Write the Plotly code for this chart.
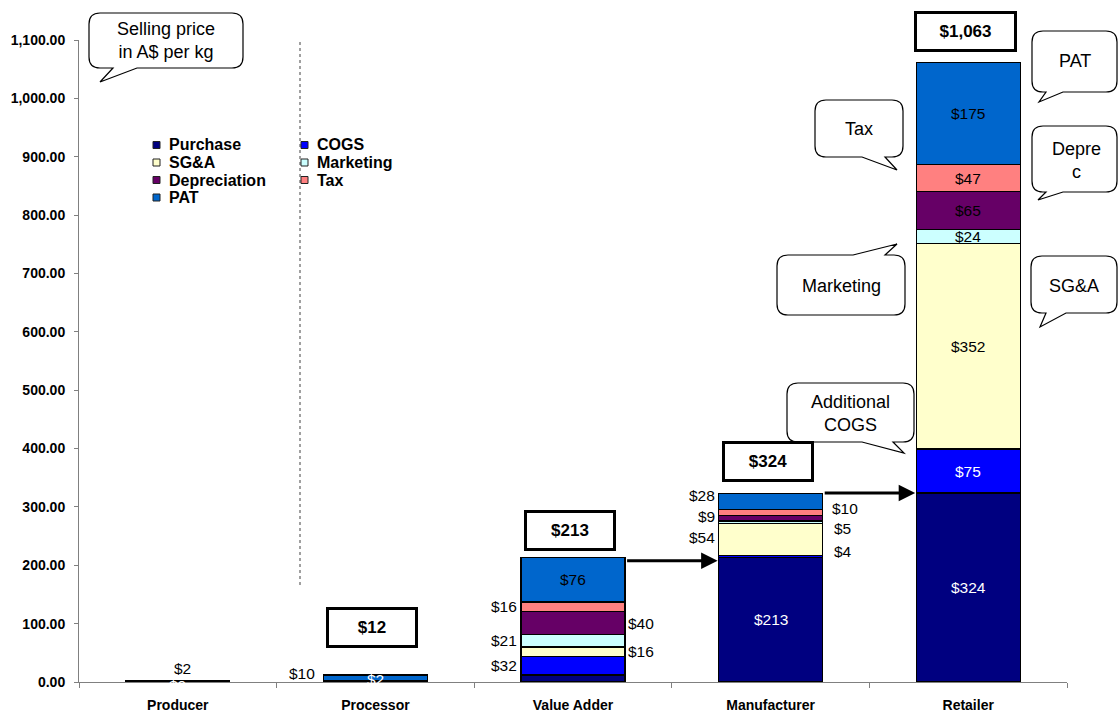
import plotly.graph_objects as go

# ---------------- data ----------------
categories = ["Producer", "Processor", "Value Adder", "Manufacturer", "Retailer"]
series_names = ["Purchase", "COGS", "SG&A", "Marketing", "Depreciation", "Tax", "PAT"]
purchase = [0, 2, 12, 213, 324]
cogs = [0, 0, 32, 4, 75]
sga = [0, 0, 16, 54, 352]
marketing = [0, 0, 21, 5, 24]
depreciation = [0, 0, 40, 9, 65]
tax = [0, 0, 16, 10, 47]
pat = [2, 10, 76, 28, 175]
selling_price = [2, 12, 213, 324, 1063]
y_tick_values = list(range(0, 1101, 100))

series_values = [purchase, cogs, sga, marketing, depreciation, tax, pat]

# ---------------- styles ----------------
colors = {
    "Purchase": "#000080",
    "COGS": "#0000FF",
    "SG&A": "#FFFFCC",
    "Marketing": "#CCFFFF",
    "Depreciation": "#660066",
    "Tax": "#FF8080",
    "PAT": "#0066CC",
}
FONT = "Liberation Sans, Arial, sans-serif"

# label placement: c=centre, l=left of bar, r=right of bar, a=above, None=hidden
label_pos = {
    "Purchase": ["c", "c", None, "c", "c"],
    "COGS": [None, None, "l", "r", "c"],
    "SG&A": [None, None, "r", "l", "c"],
    "Marketing": [None, None, "l", "r", "c"],
    "Depreciation": [None, None, "r", "l", "c"],
    "Tax": [None, None, "l", "r", "c"],
    "PAT": ["a", "l", "c", "l", "c"],
}
nudges = {  # (dx, dy) in pixels, dy positive = up
    ("PAT", "Processor"): (-4, 4),
    ("Purchase", "Processor"): (0, 2),
    ("Purchase", "Producer"): (0, -3),
    ("COGS", "Manufacturer"): (8, 5),
    ("Marketing", "Manufacturer"): (8, -6),
    ("Tax", "Manufacturer"): (6, 4),
    ("Depreciation", "Manufacturer"): (0, 2),
    ("PAT", "Manufacturer"): (0, 6),
    ("SG&A", "Manufacturer"): (0, 2),
    ("PAT", "Producer"): (5, 1),
}
box_gap = [None, 27, 7, 11, 10]

W, H = 1118, 712
L, R, T, B = 79, 51, 40, 30
PW, PH = W - L - R, H - T - B


def px(x):
    return (x - L) / PW


def py(y):
    return (H - B - y) / PH


fig = go.Figure()
for name, vals in zip(series_names, series_values):
    fig.add_trace(go.Bar(
        name=name, x=categories, y=vals,
        marker=dict(color=colors[name], line=dict(color="black", width=1.3)),
        hoverinfo="skip", showlegend=False,
    ))

annotations = []
# data labels
for ci, cat in enumerate(categories):
    base = 0
    for name, vals in zip(series_names, series_values):
        v = vals[ci]
        mid = base + v / 2
        top = base + v
        base = top
        p = label_pos[name][ci]
        if p is None:
            continue
        dx, dy = nudges.get((name, cat), (0, 0))
        col = "black"
        ann = dict(x=cat, xref="x", yref="y", text=f"${v:,}", showarrow=False,
                   font=dict(family=FONT, size=15.5, color="black"))
        if p == "c":
            if name in ("Purchase", "COGS"):
                col = "white"
            ann.update(y=mid, xanchor="center", yanchor="middle", xshift=dx, yshift=dy)
        elif p == "l":
            ann.update(y=mid, xanchor="right", yanchor="middle", xshift=-54 + dx, yshift=dy)
        elif p == "r":
            ann.update(y=mid, xanchor="left", yanchor="middle", xshift=53 + dx, yshift=dy)
        elif p == "a":
            ann.update(y=top, xanchor="center", yanchor="bottom", xshift=dx, yshift=1 + dy)
        ann["font"]["color"] = col
        annotations.append(ann)

# selling price boxes
for ci, cat in enumerate(categories):
    if box_gap[ci] is None:
        continue
    total = sum(s[ci] for s in series_values)
    txt = f"${selling_price[ci]:,}"
    annotations.append(dict(
        x=cat, y=total, xref="x", yref="y", xanchor="center", yanchor="bottom",
        yshift=box_gap[ci], xshift=-3, text=f"<b>{txt}</b>", showarrow=False,
        font=dict(family=FONT, size=17, color="black"),
        bordercolor="black", borderwidth=3, borderpad=1, bgcolor="white",
        width=84 if len(txt) < 6 else 95, height=33,
    ))

# arrows between stages
for src, dst, ys in [(2, 3, -3), (3, 4, 0)]:
    annotations.append(dict(
        x=categories[dst], y=selling_price[src], xref="x", yref="y",
        xshift=-53, yshift=ys, ax=-92, ay=0, text="", showarrow=True,
        arrowhead=2, arrowsize=1.1, arrowwidth=3, arrowcolor="black", standoff=0,
    ))

shapes = []


def bubble(x0, y0, x1, y1, edge, a, b, tip, r=11):
    pts = []
    pts.append(("M", (x0 + r, y0)))
    if edge == "top":
        pts += [("L", (a, y0)), ("L", tip), ("L", (b, y0))]
    pts.append(("L", (x1 - r, y0)))
    pts.append(("Q", (x1, y0), (x1, y0 + r)))
    pts.append(("L", (x1, y1 - r)))
    pts.append(("Q", (x1, y1), (x1 - r, y1)))
    if edge == "bottom":
        pts += [("L", (b, y1)), ("L", tip), ("L", (a, y1))]
    pts.append(("L", (x0 + r, y1)))
    pts.append(("Q", (x0, y1), (x0, y1 - r)))
    pts.append(("L", (x0, y0 + r)))
    pts.append(("Q", (x0, y0), (x0 + r, y0)))
    s = ""
    for item in pts:
        cmd = item[0]
        s += cmd + " " + " ".join(f"{px(p[0]):.5f},{py(p[1]):.5f}" for p in item[1:]) + " "
    s += "Z"
    return dict(type="path", path=s, xref="paper", yref="paper",
                line=dict(color="black", width=1.2), fillcolor="white", layer="above")


bubbles = [
    ((89, 13, 243, 68, "bottom", 113, 137, (100, 82)), "Selling price<br>in A$ per kg", (166, 41)),
    ((1032, 31, 1117, 92, "bottom", 1046, 1063, (1039, 102)), "PAT", (1075, 61)),
    ((1032, 126, 1117, 192, "bottom", 1046, 1063, (1038, 200)), "Depre<br>c", (1076, 160)),
    ((1031, 256, 1117, 313, "bottom", 1046, 1066, (1040, 327)), "SG&A", (1074, 286)),
    ((777, 255, 905, 315, "top", 853, 885, (897, 244)), "Marketing", (841, 286)),
    ((815, 100, 903, 157, "bottom", 862, 885, (897, 170)), "Tax", (859, 129)),
    ((787, 383, 914, 442, "bottom", 862, 893, (904, 453)), "Additional<br>COGS", (850, 413)),
]
for geo, txt, (tx, ty) in bubbles:
    shapes.append(bubble(*geo))
    annotations.append(dict(x=px(tx), y=py(ty), xref="paper", yref="paper", text=txt,
                            showarrow=False, xanchor="center", yanchor="middle",
                            font=dict(family=FONT, size=18, color="black")))

# dotted divider
shapes.append(dict(type="line", xref="paper", yref="paper", x0=px(300), x1=px(300),
                   y0=py(42), y1=py(588), line=dict(color="#A0A0A0", width=2, dash="dot")))

# manual two-column legend
for i, name in enumerate(series_names):
    col, row = i % 2, i // 2
    sx = 153 if col == 0 else 301
    cy = 145 + row * 17.5
    shapes.append(dict(type="rect", xref="paper", yref="paper",
                       x0=px(sx), x1=px(sx + 7), y0=py(cy - 3.5), y1=py(cy + 3.5),
                       fillcolor=colors[name], line=dict(color="#222222", width=1)))
    annotations.append(dict(x=px(sx + 14), y=py(cy), xref="paper", yref="paper",
                            text=f"<b>{name}</b>", showarrow=False, xanchor="left",
                            yanchor="middle", font=dict(family=FONT, size=16, color="black")))

fig.update_layout(
    width=W, height=H, barmode="stack", bargap=0.474,
    margin=dict(l=L, r=R, t=T, b=B, autoexpand=False),
    paper_bgcolor="white", plot_bgcolor="white",
    font=dict(family=FONT, color="black"),
    annotations=annotations, shapes=shapes, showlegend=False,
    xaxis=dict(type="category", showline=True, linecolor="#808080", linewidth=1,
               ticks="outside", tickson="boundaries", ticklen=5, tickcolor="#808080",
               tickfont=dict(family=FONT, size=14, color="black", weight="bold"),
               ticklabelstandoff=10, showgrid=False, zeroline=False, fixedrange=True),
    yaxis=dict(range=[0, 1100], tickvals=y_tick_values, tickformat=",.2f",
               showline=True, linecolor="#808080", linewidth=1, ticks="outside",
               ticklen=4, tickcolor="#808080",
               tickfont=dict(family=FONT, size=14, color="black", weight="bold"),
               ticklabelstandoff=6, showgrid=False, zeroline=False, fixedrange=True),
)

fig.write_html("out.html")
